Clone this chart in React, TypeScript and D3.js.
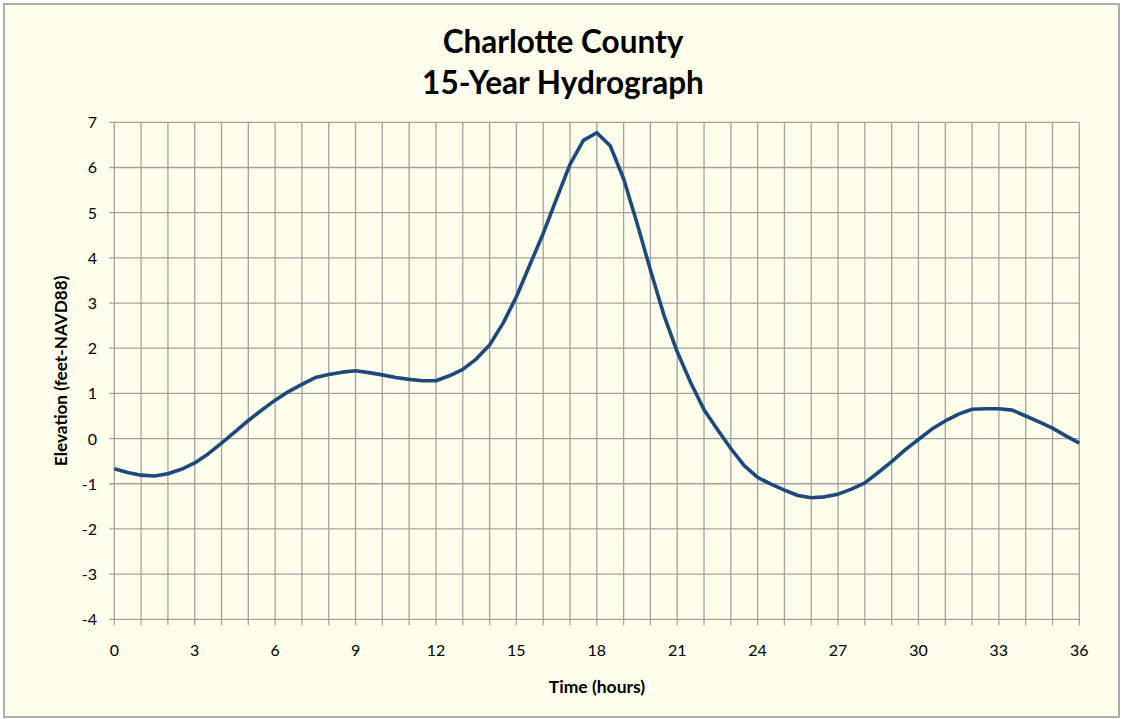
import React from "react";
import * as d3 from "d3";

const titleLines = ["Charlotte County", "15-Year Hydrograph"];
const xLabel = "Time (hours)";
const yLabel = "Elevation (feet-NAVD88)";

const hours = d3.range(0, 36.0001, 0.5);
const elevation = [
  -0.67, -0.75, -0.81, -0.83, -0.78, -0.68, -0.54, -0.34, -0.1, 0.15,
  0.4, 0.63, 0.85, 1.04, 1.2, 1.35, 1.42, 1.47, 1.5, 1.46,
  1.41, 1.35, 1.31, 1.28, 1.28, 1.39, 1.53, 1.76, 2.07, 2.55,
  3.14, 3.84, 4.54, 5.31, 6.07, 6.6, 6.77, 6.48, 5.75, 4.77,
  3.73, 2.74, 1.92, 1.24, 0.64, 0.2, -0.22, -0.6, -0.86, -1.01,
  -1.14, -1.26, -1.31, -1.29, -1.23, -1.12, -0.98, -0.75, -0.51, -0.25,
  -0.02, 0.21, 0.39, 0.54, 0.65, 0.66, 0.66, 0.63, 0.5, 0.37,
  0.23, 0.06, -0.1,
];
const xTicks = [0, 3, 6, 9, 12, 15, 18, 21, 24, 27, 30, 33, 36];
const yTicks = [-4, -3, -2, -1, 0, 1, 2, 3, 4, 5, 6, 7];

export default function App() {
  const W = 1123, H = 719;
  const left = 114.3, right = 1079.3, top = 122.3, bottom = 619.3;
  const x = d3.scaleLinear().domain([0, 36]).range([left, right]);
  const y = d3.scaleLinear().domain([-4, 7]).range([bottom, top]);
  const line = d3.line<number>().x((_, i) => x(hours[i])).y((d) => y(d)).curve(d3.curveLinear);
  const gridX = d3.range(0, 37, 1);
  const font = "Lato, 'Open Sans', sans-serif";
  const grid = "#a2a2a2";
  return (
    <svg width={W} height={H} style={{ position: "absolute", left: 0, top: 0 }} fontFamily={font}>
      <rect x={0} y={0} width={W} height={H} fill="#ffffff" />
      <rect x={4} y={4} width={1115} height={713} fill="#fefeec" stroke="#9a9a9a" strokeWidth={1.6} />
      {titleLines.map((t, i) => (
        <text key={t} x={563} y={53 + i * 41} textAnchor="middle" fontSize={31.5} fontWeight="bold" fill="#000">
          {t}
        </text>
      ))}
      {gridX.map((h) => (
        <line key={"gx" + h} x1={x(h)} x2={x(h)} y1={top} y2={bottom + 6} stroke={grid} strokeWidth={1.3} />
      ))}
      {yTicks.map((v) => (
        <line key={"gy" + v} x1={left - 5} x2={right} y1={y(v)} y2={y(v)} stroke={grid} strokeWidth={1.3} />
      ))}
      {yTicks.map((v) => (
        <text key={"ty" + v} x={97} y={y(v) + 6} textAnchor="end" fontSize={16} fill="#000">
          {v}
        </text>
      ))}
      {xTicks.map((v) => (
        <text key={"tx" + v} x={x(v)} y={656} textAnchor="middle" fontSize={16} fill="#000">
          {v}
        </text>
      ))}
      <path d={line(elevation) || ""} fill="none" stroke="#1f497d" strokeWidth={3.6} strokeLinejoin="round" />
      <text x={597} y={693} textAnchor="middle" fontSize={17.5} fontWeight="bold" fill="#000">
        {xLabel}
      </text>
      <text transform={`translate(67, ${(top + bottom) / 2}) rotate(-90)`} textAnchor="middle" fontSize={17.2} fontWeight="bold" fill="#000">
        {yLabel}
      </text>
    </svg>
  );
}
